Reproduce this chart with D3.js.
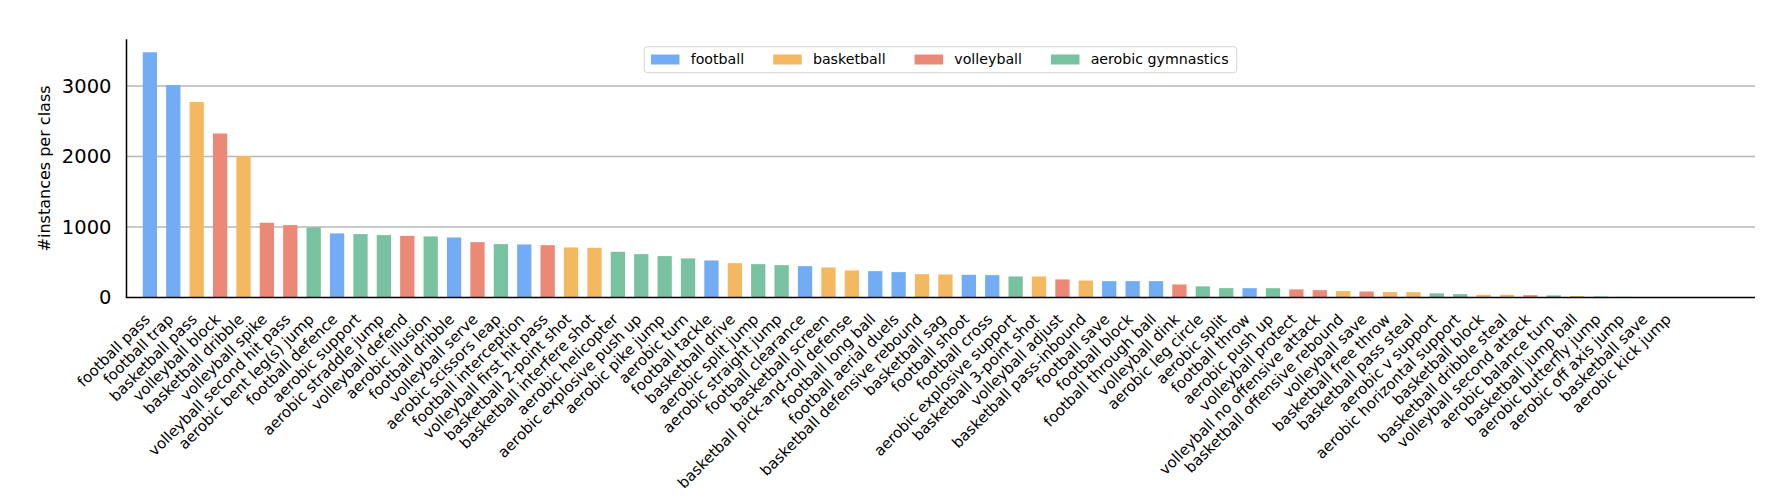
<!DOCTYPE html>
<html>
<head>
<meta charset="utf-8">
<script src="https://cdn.jsdelivr.net/npm/d3@7"></script>
<style>
  html, body { margin: 0; padding: 0; background: #ffffff; }
  svg { display: block; font-family: "DejaVu Sans", sans-serif; }
</style>
</head>
<body>
<svg id="chart" width="1780" height="502"></svg>
<script>
// ---- data ----
const categories = [
  "football pass", "football trap", "basketball pass", "volleyball block", "basketball dribble",
  "volleyball spike", "volleyball second hit pass", "aerobic bent leg(s) jump", "football defence", "aerobic support",
  "aerobic straddle jump", "volleyball defend", "aerobic illusion", "football dribble", "volleyball serve",
  "aerobic scissors leap", "football interception", "volleyball first hit pass", "basketball 2-point shot", "basketball interfere shot",
  "aerobic helicopter", "aerobic explosive push up", "aerobic pike jump", "aerobic turn", "football tackle",
  "basketball drive", "aerobic split jump", "aerobic straight jump", "football clearance", "basketball screen",
  "basketball pick-and-roll defense", "football long ball", "football aerial duels", "basketball defensive rebound", "basketball sag",
  "football shoot", "football cross", "aerobic explosive support", "basketball 3-point shot", "volleyball adjust",
  "basketball pass-inbound", "football save", "football block", "football through ball", "volleyball dink",
  "aerobic leg circle", "aerobic split", "football throw", "aerobic push up", "volleyball protect",
  "volleyball no offensive attack", "basketball offensive rebound", "volleyball save", "basketball free throw", "basketball pass steal",
  "aerobic v support", "aerobic horizontal support", "basketball block", "basketball dribble steal", "volleyball second attack",
  "aerobic balance turn", "basketball jump ball", "aerobic butterfly jump", "aerobic off axis jump", "basketball save",
  "aerobic kick jump"
];
const sportOf = [
  "football", "football", "basketball", "volleyball", "basketball",
  "volleyball", "volleyball", "aerobic gymnastics", "football", "aerobic gymnastics",
  "aerobic gymnastics", "volleyball", "aerobic gymnastics", "football", "volleyball",
  "aerobic gymnastics", "football", "volleyball", "basketball", "basketball",
  "aerobic gymnastics", "aerobic gymnastics", "aerobic gymnastics", "aerobic gymnastics", "football",
  "basketball", "aerobic gymnastics", "aerobic gymnastics", "football", "basketball",
  "basketball", "football", "football", "basketball", "basketball",
  "football", "football", "aerobic gymnastics", "basketball", "volleyball",
  "basketball", "football", "football", "football", "volleyball",
  "aerobic gymnastics", "aerobic gymnastics", "football", "aerobic gymnastics", "volleyball",
  "volleyball", "basketball", "volleyball", "basketball", "basketball",
  "aerobic gymnastics", "aerobic gymnastics", "basketball", "basketball", "volleyball",
  "aerobic gymnastics", "basketball", "aerobic gymnastics", "aerobic gymnastics", "basketball",
  "aerobic gymnastics"
];
const values = [
  3478, 3014, 2773, 2326, 2005,
  1060, 1027, 994, 909, 899,
  885, 875, 866, 852, 785,
  757, 752, 743, 710, 705,
  648, 615, 587, 554, 525,
  487, 473, 459, 445, 426,
  383, 374, 360, 331, 326,
  322, 317, 298, 298, 256,
  241, 232, 232, 232, 185,
  158, 133, 132, 132, 115,
  104, 90, 85, 78, 76,
  59, 47, 38, 38, 33,
  30, 22, 14, 10, 8,
  5
];
const sports = ["football", "basketball", "volleyball", "aerobic gymnastics"];
const sportColors = ["#72acf5", "#f4b861", "#ec8876", "#78c2a1"];
const yTicks = [0, 1000, 2000, 3000];
const yLabel = "#instances per class";

// ---- layout ----
const svg = d3.select("#chart");
const pLeft = 126.5, pRight = 1755, pTop = 39.3, pBottom = 297.5;

const x = d3.scaleLinear().domain([-1, 68.6]).range([pLeft, pRight]);
const y = d3.scaleLinear().domain([0, 3662]).range([pBottom, pTop]);
const color = d3.scaleOrdinal().domain(sports).range(sportColors);
const barW = (x(1) - x(0)) * 0.61;

// grid lines
svg.append("g")
  .selectAll("line")
  .data(yTicks.filter(d => d > 0))
  .join("line")
  .attr("x1", pLeft).attr("x2", pRight)
  .attr("y1", d => y(d)).attr("y2", d => y(d))
  .attr("stroke", "#b8b8b8")
  .attr("stroke-width", 1.3);

// bars
svg.append("g")
  .selectAll("rect")
  .data(values)
  .join("rect")
  .attr("x", (d, i) => x(i) - barW / 2)
  .attr("width", barW)
  .attr("y", d => y(d))
  .attr("height", d => y(0) - y(d))
  .attr("fill", (d, i) => color(sportOf[i]));

// y axis (no tick marks, labels only)
const yAxis = d3.axisLeft(y).tickValues(yTicks).tickSize(0).tickPadding(15).tickFormat(d3.format("d"));
const gy = svg.append("g").attr("transform", `translate(${pLeft},0)`).call(yAxis);
gy.select(".domain").remove();
gy.selectAll("text")
  .attr("font-size", 19.5)
  .attr("fill", "#000")
  .attr("font-family", "DejaVu Sans");

// spines
svg.append("line")
  .attr("x1", pLeft).attr("x2", pLeft)
  .attr("y1", pTop).attr("y2", pBottom)
  .attr("stroke", "#000").attr("stroke-width", 1.5);
svg.append("line")
  .attr("x1", pLeft - 0.75).attr("x2", pRight)
  .attr("y1", pBottom).attr("y2", pBottom)
  .attr("stroke", "#000").attr("stroke-width", 1.5);

// x tick labels (rotated)
const xAxis = d3.axisBottom(x)
  .tickValues(d3.range(categories.length))
  .tickSize(0)
  .tickFormat(i => categories[i]);
const gx = svg.append("g").attr("transform", `translate(0,${pBottom})`).call(xAxis);
gx.select(".domain").remove();
gx.selectAll("text")
  .attr("font-size", 15)
  .attr("font-family", "DejaVu Sans")
  .attr("fill", "#000")
  .attr("text-anchor", "end")
  .attr("x", 0).attr("y", 0).attr("dy", "0.35em")
  .attr("transform", "translate(-3,19) rotate(-45)");

// y label
svg.append("text")
  .attr("transform", `translate(44,${(pTop + pBottom) / 2}) rotate(-90)`)
  .attr("text-anchor", "middle")
  .attr("dy", "0.35em")
  .attr("font-size", 16)
  .attr("fill", "#000")
  .text(yLabel);

// legend
const lg = svg.append("g");
lg.append("rect")
  .attr("x", 644.3).attr("y", 46.7)
  .attr("width", 1236.7 - 644.3).attr("height", 26)
  .attr("rx", 3).attr("ry", 3)
  .attr("fill", "#ffffff").attr("fill-opacity", 0.8)
  .attr("stroke", "#d6d6d6").attr("stroke-width", 1);
let cx = 651;
sports.forEach((s, k) => {
  const item = lg.append("g");
  item.append("rect")
    .attr("x", cx).attr("y", 54.5)
    .attr("width", 28.5).attr("height", 10)
    .attr("fill", color(s));
  const t = item.append("text")
    .attr("x", cx + 39.7).attr("y", 59.5)
    .attr("dy", "0.35em")
    .attr("font-size", 14.2)
    .attr("fill", "#000")
    .text(s);
  const w = t.node().getComputedTextLength();
  cx = cx + 39.7 + w + 29;
});
</script>
</body>
</html>
